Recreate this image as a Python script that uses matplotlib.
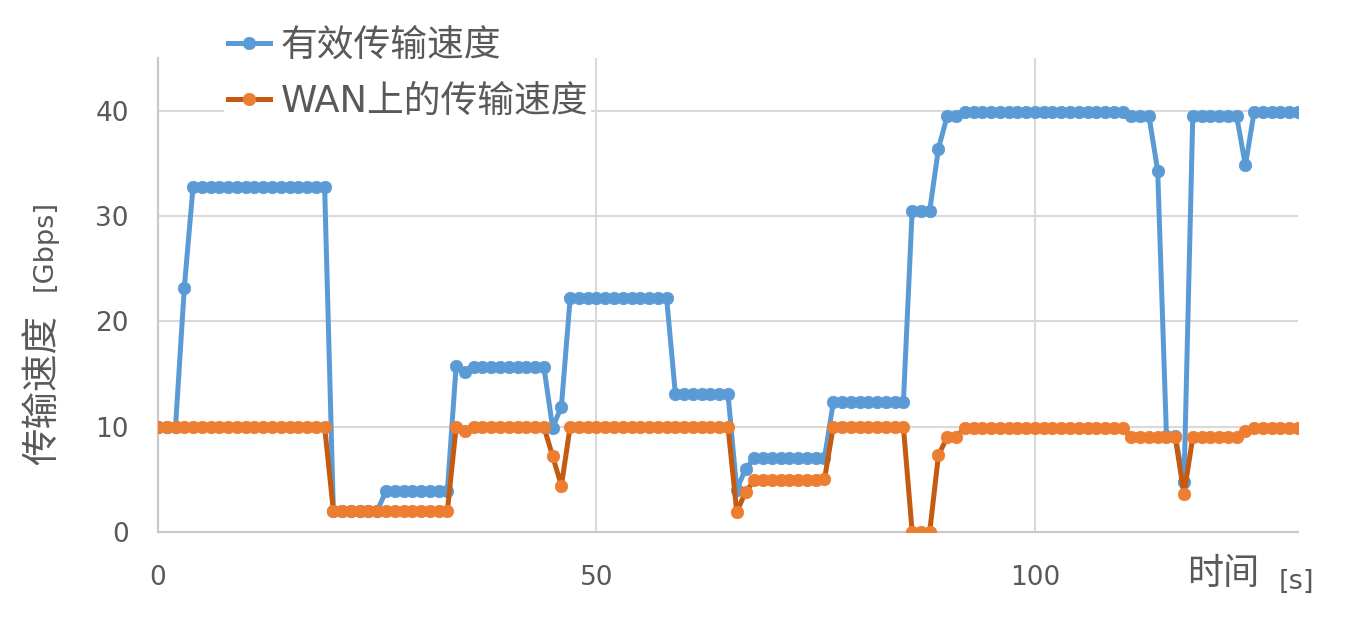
import matplotlib
matplotlib.use('Agg')
import matplotlib.pyplot as plt

# 字体: 拉丁字母用 DejaVu, 中文回退到 Noto Sans CJK SC
plt.rcParams['font.family'] = ['DejaVu Sans', 'Noto Sans CJK SC']

# 时间 [s]
time_s = list(range(131))

# 有效传输速度 [Gbps]
effective = [
    10.0, 10.0, 10.0, 23.2, 32.8, 32.8, 32.8, 32.8, 32.8, 32.8,
    32.8, 32.8, 32.8, 32.8, 32.8, 32.8, 32.8, 32.8, 32.8, 32.8,
    2.0, 2.0, 2.0, 2.0, 2.0, 2.0, 3.9, 3.9, 3.9, 3.9,
    3.9, 3.9, 3.9, 3.9, 15.8, 15.2, 15.7, 15.7, 15.7, 15.7,
    15.7, 15.7, 15.7, 15.7, 15.7, 9.9, 11.9, 22.2, 22.2, 22.2,
    22.2, 22.2, 22.2, 22.2, 22.2, 22.2, 22.2, 22.2, 22.2, 13.1,
    13.1, 13.1, 13.1, 13.1, 13.1, 13.1, 4.0, 6.0, 7.0, 7.0,
    7.0, 7.0, 7.0, 7.0, 7.0, 7.0, 7.0, 12.3, 12.3, 12.3,
    12.3, 12.3, 12.3, 12.3, 12.3, 12.3, 30.5, 30.5, 30.5, 36.4,
    39.5, 39.5, 39.9, 39.9, 39.9, 39.9, 39.9, 39.9, 39.9, 39.9,
    39.9, 39.9, 39.9, 39.9, 39.9, 39.9, 39.9, 39.9, 39.9, 39.9,
    39.9, 39.5, 39.5, 39.5, 34.3, 9.1, 9.1, 4.7, 39.5, 39.5,
    39.5, 39.5, 39.5, 39.5, 34.8, 39.9, 39.9, 39.9, 39.9, 39.9,
    39.9,
]

# WAN上的传输速度 [Gbps]
wan = [
    10.0, 10.0, 10.0, 10.0, 10.0, 10.0, 10.0, 10.0, 10.0, 10.0,
    10.0, 10.0, 10.0, 10.0, 10.0, 10.0, 10.0, 10.0, 10.0, 10.0,
    2.0, 2.0, 2.0, 2.0, 2.0, 2.0, 2.0, 2.0, 2.0, 2.0,
    2.0, 2.0, 2.0, 2.0, 10.0, 9.6, 10.0, 10.0, 10.0, 10.0,
    10.0, 10.0, 10.0, 10.0, 10.0, 7.2, 4.4, 10.0, 10.0, 10.0,
    10.0, 10.0, 10.0, 10.0, 10.0, 10.0, 10.0, 10.0, 10.0, 10.0,
    10.0, 10.0, 10.0, 10.0, 10.0, 10.0, 1.9, 3.8, 4.9, 4.9,
    4.9, 4.9, 4.9, 4.9, 4.9, 4.9, 5.0, 10.0, 10.0, 10.0,
    10.0, 10.0, 10.0, 10.0, 10.0, 10.0, 0.0, 0.0, 0.0, 7.3,
    9.0, 9.0, 9.9, 9.9, 9.9, 9.9, 9.9, 9.9, 9.9, 9.9,
    9.9, 9.9, 9.9, 9.9, 9.9, 9.9, 9.9, 9.9, 9.9, 9.9,
    9.9, 9.0, 9.0, 9.0, 9.0, 9.0, 9.0, 3.6, 9.0, 9.0,
    9.0, 9.0, 9.0, 9.0, 9.6, 9.9, 9.9, 9.9, 9.9, 9.9,
    9.9,
]

text_color = '#595959'
W, H = 1372, 628

fig = plt.figure(figsize=(W / 100, H / 100), dpi=100)
ax = fig.add_axes([158 / W, 96 / H, 1140 / W, 474 / H])

ax.plot(time_s, effective, color='#5B9BD5', lw=3.6, marker='o', ms=9,
        mfc='#5B9BD5', mec='#5B9BD5', mew=0.5, label='有效传输速度', zorder=3)
ax.plot(time_s, wan, color='#C55A11', lw=3.6, marker='o', ms=9,
        mfc='#ED7D31', mec='#ED7D31', mew=0.5, label='WAN上的传输速度', zorder=4)

ax.set_xlim(0, 130)
ax.set_ylim(0, 45)
ax.set_xticks([0, 50, 100])
ax.set_yticks([0, 10, 20, 30, 40])
ax.grid(True, color='#D9D9D9', lw=1.5)
ax.set_axisbelow(True)

for side in ['top', 'right']:
    ax.spines[side].set_visible(False)
for side in ['left', 'bottom']:
    ax.spines[side].set_color('#C8C8C8')
    ax.spines[side].set_linewidth(1.5)

ax.tick_params(axis='both', length=0, labelsize=19, labelcolor=text_color)
ax.tick_params(axis='y', pad=21)
ax.tick_params(axis='x', pad=24)

leg = ax.legend(loc='upper left', bbox_to_anchor=(224 / W, 1 - 23 / H),
                bbox_transform=fig.transFigure, fontsize=26.5,
                frameon=True, facecolor='white', edgecolor='none', framealpha=1,
                handlelength=1.15, handletextpad=0.28, labelspacing=0.52,
                borderpad=0.1, borderaxespad=0, numpoints=1)
for t in leg.get_texts():
    t.set_color(text_color)

# 轴标题
fig.text(43 / W, 1 - 390 / H, '传输速度', rotation=90, fontsize=27,
         ha='center', va='center', color=text_color)
fig.text(45 / W, 1 - 245 / H, '[Gbps]', rotation=90, fontsize=19.5,
         ha='center', va='center', color=text_color)
fig.text(1223 / W, 1 - 574 / H, '时间', fontsize=26,
         ha='center', va='center', color=text_color)
fig.text(1296 / W, 1 - 582 / H, '[s]', fontsize=19.5,
         ha='center', va='center', color=text_color)

fig.savefig('out.png', dpi=100)
